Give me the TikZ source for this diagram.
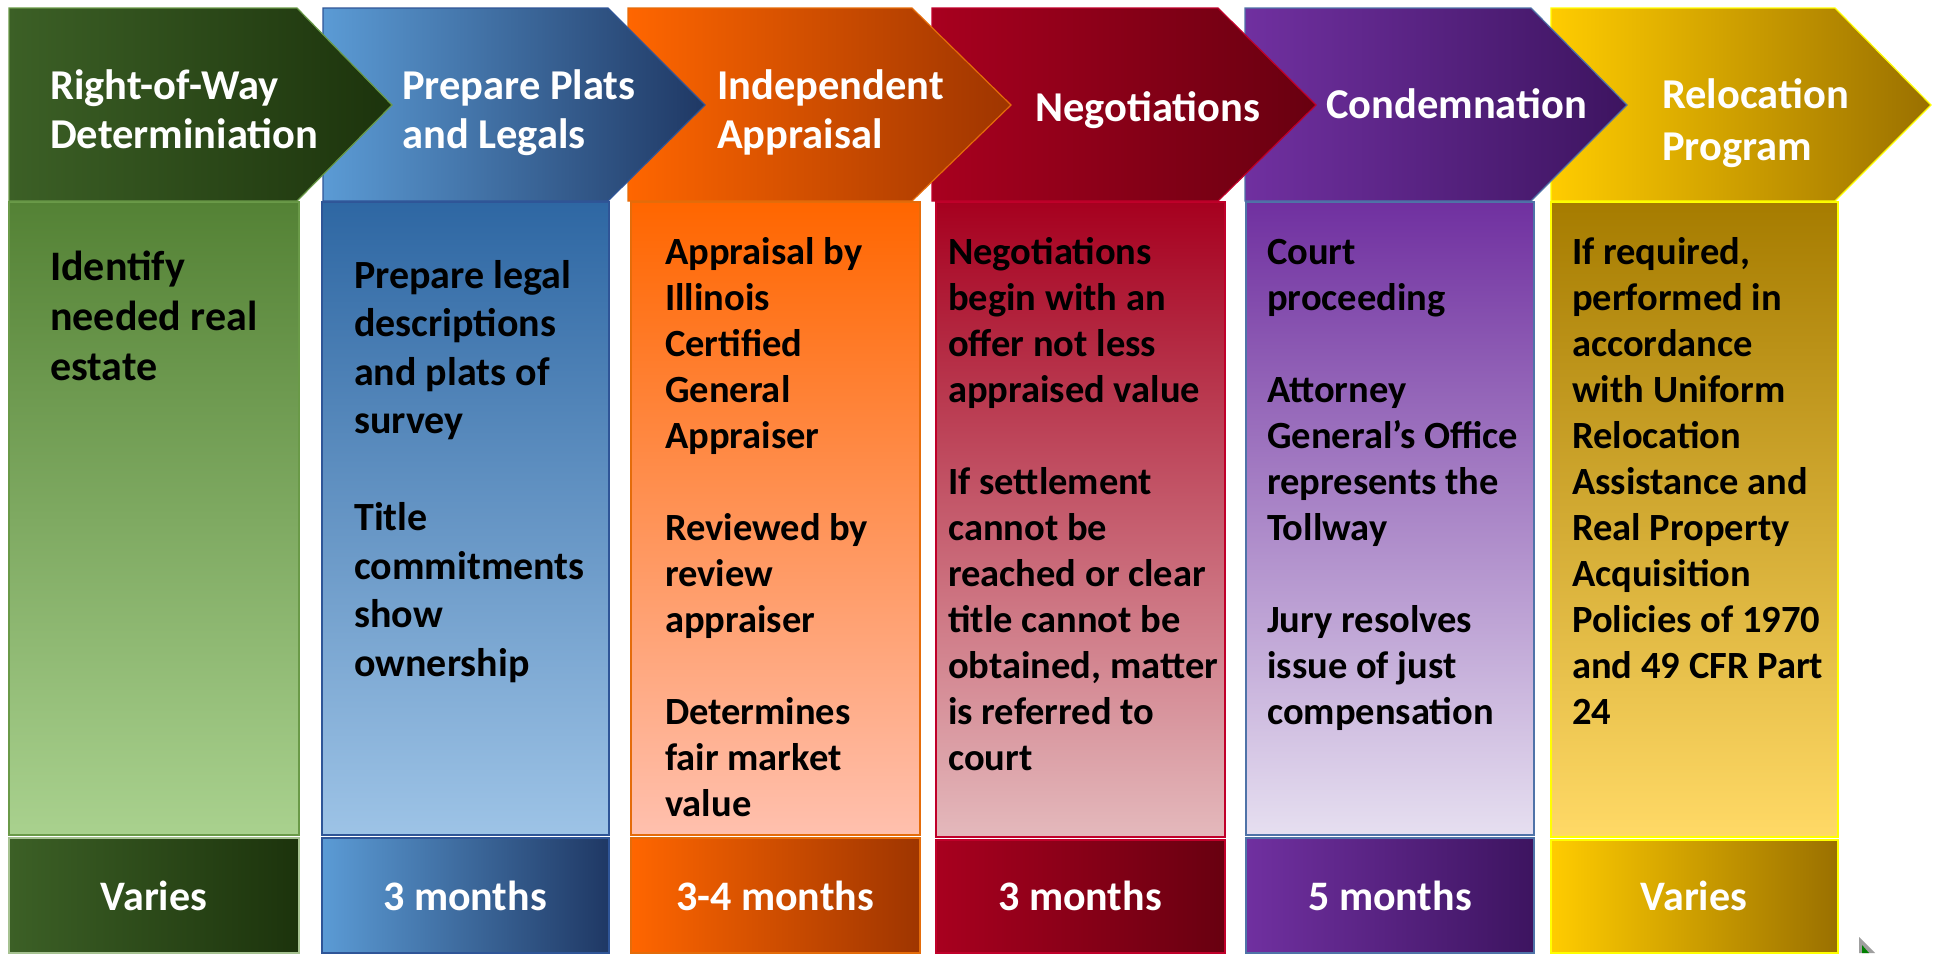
\documentclass[tikz,border=0pt]{standalone}
\usepackage{fontspec}
\setmainfont{Carlito}
\definecolor{gA1}{HTML}{3C6026}\definecolor{gA2}{HTML}{1C330C}
\definecolor{gB1}{HTML}{548235}\definecolor{gB2}{HTML}{A9D18E}\definecolor{gL}{HTML}{6A9A48}
\definecolor{bA1}{HTML}{5B9BD5}\definecolor{bA2}{HTML}{1F3864}
\definecolor{bB1}{HTML}{2E67A3}\definecolor{bB2}{HTML}{9DC3E6}\definecolor{bL}{HTML}{2F5597}
\definecolor{oA1}{HTML}{FF6600}\definecolor{oA2}{HTML}{9E3500}
\definecolor{oB1}{HTML}{FF6600}\definecolor{oB2}{HTML}{FFC0AE}\definecolor{oL}{HTML}{E46C0A}
\definecolor{rA1}{HTML}{A8001F}\definecolor{rA2}{HTML}{680010}
\definecolor{rB1}{HTML}{A6001F}\definecolor{rB2}{HTML}{E4B9BC}\definecolor{rL}{HTML}{C0002A}
\definecolor{pA1}{HTML}{7030A0}\definecolor{pA2}{HTML}{3D1460}
\definecolor{pB1}{HTML}{7030A0}\definecolor{pB2}{HTML}{E6DFF0}\definecolor{pL}{HTML}{4F73A8}
\definecolor{yA1}{HTML}{FFCC00}\definecolor{yA2}{HTML}{9A7000}
\definecolor{yB1}{HTML}{A67C00}\definecolor{yBm}{HTML}{FFC000}\definecolor{yB2}{HTML}{FFD966}\definecolor{yL}{HTML}{FFFF00}
\begin{document}
\begin{tikzpicture}[x=1pt,y=-1pt,
  chevline/.style={line width=1.2pt},
  bodyline/.style={line width=1.5pt},
  footline/.style={line width=1.2pt},
  ttl/.style={text=white,font=\fontsize{42.5}{49}\selectfont\bfseries,anchor=north west,inner sep=0pt,align=left},
  bodytxt/.style={text=black,anchor=north west,inner sep=0pt,align=left},
  foottxt/.style={text=white,font=\fontsize{42}{50}\selectfont\bfseries,anchor=base,inner sep=0pt}]
\useasboundingbox (0,0) rectangle (1956,953);
\fill[white] (0,0) rectangle (1956,953);

% ---- bodies ----
\draw[bodyline,draw=gL,top color=gB1,bottom color=gB2] (9,202) rectangle (299,835);
\draw[bodyline,draw=bL,top color=bB1,bottom color=bB2] (322,202) rectangle (609,835);
\draw[bodyline,draw=oL,top color=oB1,bottom color=oB2] (631,202) rectangle (920,835);
\draw[bodyline,draw=rL,top color=rB1,bottom color=rB2] (936,202) rectangle (1225,837);
\draw[bodyline,draw=pL,top color=pB1,bottom color=pB2] (1246,202) rectangle (1534,835);
\draw[bodyline,draw=yL,top color=yB1,middle color=yBm,bottom color=yB2] (1551,202) rectangle (1838,837);

% ---- footer boxes ----
\draw[footline,draw=gL!60!white,left color=gA1,right color=gA2] (9,838) rectangle (299,953);
\draw[footline,draw=bL,left color=bA1,right color=bA2] (322,838) rectangle (609,953);
\draw[footline,draw=oL,left color=oA1,right color=oA2] (631,838) rectangle (920,953);
\draw[footline,draw=rL,left color=rA1,right color=rA2] (936,840) rectangle (1225,953);
\draw[footline,draw=pL,left color=pA1,right color=pA2] (1246,838) rectangle (1534,953);
\draw[footline,draw=yL,left color=yA1,right color=yA2] (1551,840) rectangle (1838,953);

% ---- chevrons (right to left so earlier ones sit on top) ----
\draw[chevline,draw=yL,left color=yA1,right color=yA2] (1551,8) -- (1835,8) -- (1931,105) -- (1835,201) -- (1551,201) -- cycle;
\draw[chevline,draw=pL,left color=pA1,right color=pA2] (1245,8) -- (1531,8) -- (1627,105) -- (1531,201) -- (1245,201) -- cycle;
\draw[chevline,draw=rL,left color=rA1,right color=rA2] (932,8) -- (1218,8) -- (1316,105) -- (1218,201) -- (932,201) -- cycle;
\draw[chevline,draw=oL,left color=oA1,right color=oA2] (628,8) -- (912,8) -- (1011,105) -- (912,201) -- (628,201) -- cycle;
\draw[chevline,draw=bL,left color=bA1,right color=bA2] (323,8) -- (608,8) -- (705,105) -- (608,201) -- (323,201) -- cycle;
\draw[chevline,draw=gL,left color=gA1,right color=gA2] (9,8) -- (297,8) -- (392,105) -- (297,201) -- (9,201) -- cycle;

% ---- titles ----
\node[ttl] (h1) at (50,56.5) {\rule{0pt}{1em}Right-of-Way\\Determiniation};
\node[ttl] (h2) at (402,56.5) {\rule{0pt}{1em}Prepare Plats\\and Legals};
\node[ttl] (h3) at (717,56.5) {\rule{0pt}{1em}Independent\\Appraisal};
\node[ttl] (h4) at (1035,78.5) {\rule{0pt}{1em}Negotiations};
\node[ttl] (h5) at (1326,75.5) {\rule{0pt}{1em}Condemnation};
\node[ttl,font=\fontsize{42.5}{52}\selectfont\bfseries] (h6) at (1662,65.5) {\rule{0pt}{1em}Relocation\\Program};

% ---- body texts ----
\node[bodytxt,font=\fontsize{42}{50}\selectfont\bfseries] (t1) at (50,238)
  {\rule{0pt}{1em}Identify\\needed real\\estate};
\node[bodytxt,font=\fontsize{40}{48.5}\selectfont\bfseries] (t2) at (354,248)
  {\rule{0pt}{1em}Prepare legal\\descriptions\\and plats of\\survey\\[48.5pt]Title\\commitments\\show\\ownership};
\node[bodytxt,font=\fontsize{38.5}{46}\selectfont\bfseries] (t3) at (665,225.5)
  {\rule{0pt}{1em}Appraisal by\\Illinois\\Certified\\General\\Appraiser\\[46pt]Reviewed by\\review\\appraiser\\[46pt]Determines\\fair market\\value};
\node[bodytxt,font=\fontsize{38.5}{46}\selectfont\bfseries] (t4) at (948,225.5)
  {\rule{0pt}{1em}Negotiations\\begin with an\\offer not less\\appraised value\\[46pt]If settlement\\cannot be\\reached or clear\\title cannot be\\obtained, matter\\is referred to\\court};
\node[bodytxt,font=\fontsize{38.5}{46}\selectfont\bfseries] (t5) at (1267,225.5)
  {\rule{0pt}{1em}Court\\proceeding\\[46pt]Attorney\\General’s Office\\represents the\\Tollway\\[46pt]Jury resolves\\issue of just\\compensation};
\node[bodytxt,font=\fontsize{38.5}{46}\selectfont\bfseries] (t6) at (1572,225.5)
  {\rule{0pt}{1em}If required,\\performed in\\accordance\\with Uniform\\Relocation\\Assistance and\\Real Property\\Acquisition\\Policies of 1970\\and 49 CFR Part\\24};

% ---- footer texts ----
\node[foottxt] (d1) at (154,910) {Varies};
\node[foottxt] (d2) at (465,910) {3 months};
\node[foottxt] (d3) at (775,910) {3-4 months};
\node[foottxt] (d4) at (1080,910) {3 months};
\node[foottxt] (d5) at (1390,910) {5 months};
\node[foottxt] (d6) at (1694,910) {Varies};

% ---- small grey marker at bottom right ----
\fill[gray!75] (1859,937) -- (1859,953) -- (1875,953) -- cycle;
\fill[green!50!black] (1862,945) -- (1862,953) -- (1869,953) -- cycle;
\end{tikzpicture}
\end{document}
